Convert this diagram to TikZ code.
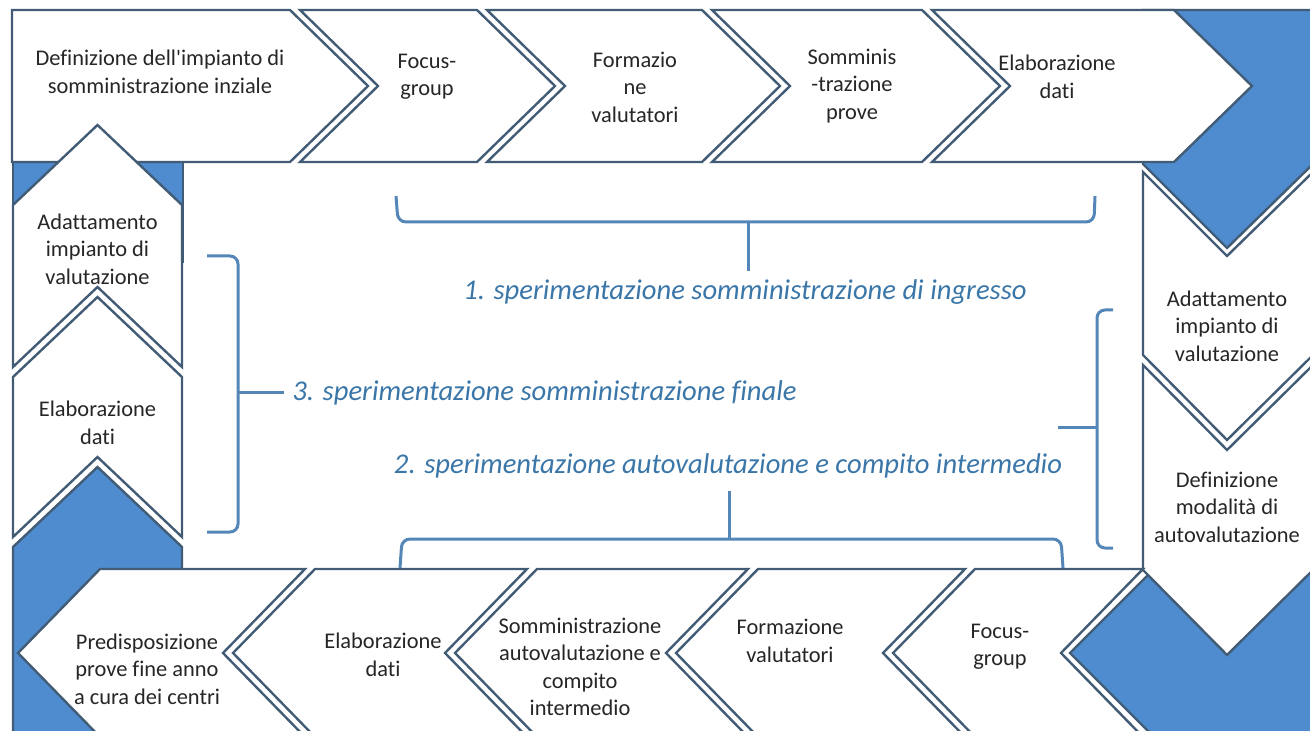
\documentclass[tikz,border=0pt]{standalone}
\usepackage{fontspec}
\setmainfont{Carlito}[Ligatures={TeX,NoCommon}]
\definecolor{cornerblue}{RGB}{79,140,207}
\definecolor{edgeslate}{RGB}{66,92,118}
\definecolor{braceblue}{RGB}{84,134,184}
\definecolor{phaseblue}{RGB}{58,118,168}

\begin{document}
\begin{tikzpicture}[x=0.5pt,y=-0.5pt,
    chev/.style={draw=edgeslate,fill=white,line width=1.2pt,line join=miter},
    corner/.style={draw=edgeslate,fill=cornerblue,line width=1.2pt},
    txt/.style={align=center,inner sep=0pt,text=black!85,font=\fontsize{11.2}{13.7}\selectfont},
    phase/.style={inner sep=0pt,text=phaseblue,font=\fontsize{14.3}{16}\selectfont\itshape},
    brace/.style={draw=braceblue,line width=1.5pt,rounded corners=4pt},
    tip/.style={draw=braceblue,line width=1.5pt}]
            \useasboundingbox (0,0) rectangle (1310,731);
            \clip (0,0) rectangle (1310,731);
            % blue corner pieces
            \draw [corner] (13,162) rectangle (183,262);
            \draw [corner] (1143,10) -- (1313,10) -- (1313,164) -- (1227,248) -- (1143,164) -- cycle;
            \draw [corner] (1070,653) -- (1152,571) -- (1313,571) -- (1313,740) -- (1157,740) -- cycle;
            \draw [corner] (13,547) -- (97.5,467) -- (182,547) -- (182,740) -- (13,740) -- cycle;
            % top row
            \draw [chev] (12,10) -- (290,10) -- (368,86) -- (290,162) -- (12,162) -- cycle;
            \draw [chev] (300,10) -- (477,10) -- (555,86) -- (477,162) -- (300,162) -- (378,86) -- cycle;
            \draw [chev] (487,10) -- (702,10) -- (780,86) -- (702,162) -- (487,162) -- (565,86) -- cycle;
            \draw [chev] (712,10) -- (922,10) -- (1000,86) -- (922,162) -- (712,162) -- (790,86) -- cycle;
            \draw [chev] (932,10) -- (1174,10) -- (1252,86) -- (1174,162) -- (932,162) -- (1010,86) -- cycle;
            % right column
            \draw [chev] (1143,172) -- (1227,256) -- (1313,172) -- (1313,355) -- (1227,440) -- (1143,355) -- cycle;
            \draw [chev] (1143,365) -- (1227,450) -- (1313,365) -- (1313,570) -- (1227,655) -- (1143,570) -- cycle;
            % bottom row
            \draw [chev] (1143,569) -- (975,569) -- (893,653) -- (975,737) -- (1143,737) -- (1061,653) -- cycle;
            \draw [chev] (965,569) -- (758,569) -- (676,653) -- (758,737) -- (965,737) -- (883,653) -- cycle;
            \draw [chev] (748,569) -- (537,569) -- (455,653) -- (537,737) -- (748,737) -- (666,653) -- cycle;
            \draw [chev] (527,569) -- (315,569) -- (233,653) -- (315,737) -- (527,737) -- (445,653) -- cycle;
            \draw [chev] (305,569) -- (100,569) -- (18,653) -- (100,737) -- (305,737) -- (223,653) -- cycle;
            % left column
            \draw [chev] (13,205) -- (97.5,125) -- (182,205) -- (182,367) -- (97.5,287) -- (13,367) -- cycle;
            \draw [chev] (13,377) -- (97.5,297) -- (182,377) -- (182,537) -- (97.5,457) -- (13,537) -- cycle;
            % step texts
            \node [txt] (t1) at (160,72) {Definizione dell\textquotesingle impianto di\\somministrazione inziale};
            \node [txt] (t2) at (427,77) {Focus-\\group};
            \node [txt] (t3) at (635,87) {Formazio\\ne\\valutatori};
            \node [txt] (t4) at (852,86) {Somminis\\-trazione\\prove};
            \node [txt] (t5) at (1057,77) {Elaborazione\\dati};
            \node [txt] (r1) at (1227,326) {Adattamento\\impianto di\\valutazione};
            \node [txt] (r2) at (1227,507) {Definizione\\modalità di\\autovalutazione};
            \node [txt] (b1) at (1000,647) {Focus-\\group};
            \node [txt] (b2) at (790,641) {Formazione\\valutatori};
            \node [txt] (b3) at (580,667) {Somministrazione\\autovalutazione e\\compito\\intermedio};
            \node [txt] (b4) at (383,655) {Elaborazione\\dati};
            \node [txt] (b5) at (147,669) {Predisposizione\\prove fine anno\\a cura dei centri};
            \node [txt] (l1) at (97.5,249) {Adattamento\\impianto di\\valutazione};
            \node [txt] (l2) at (97.5,423) {Elaborazione\\dati};
            % phases and braces
            \node [phase] (p1) at (745,292) {1. sperimentazione somministrazione di ingresso};
            \node [phase,anchor=west] (p3) at (292,393) {3. sperimentazione somministrazione finale};
            \node [phase] (p2) at (728,466) {2. sperimentazione autovalutazione e compito intermedio};
            \draw [brace] (396,196) -- (398,222) -- (1094,222) -- (1095,196);
            \coordinate (k1) at (748,222);
            \draw [tip,shorten >=4pt] (k1) -- (k1 |- p1.north);
            \draw [brace] (207,256) -- (238,256) -- (238,532) -- (207,532);
            \coordinate (k3) at (238,393);
            \draw [tip,shorten >=4pt] (k3) -- (p3.west |- k3);
            \draw [brace] (1113,310) -- (1097,310) -- (1097,548) -- (1113,548);
            \coordinate (k4) at (1097,428);
            \coordinate (k4end) at (1058,428);
            \draw [tip] (k4) -- (k4end);
            \draw [brace] (400,568) -- (402,539) -- (1061,539) -- (1063,568);
            \coordinate (k2) at (729,539);
            \draw [tip,shorten >=6pt] (k2) -- (k2 |- p2.south);
\end{tikzpicture}
\end{document}
